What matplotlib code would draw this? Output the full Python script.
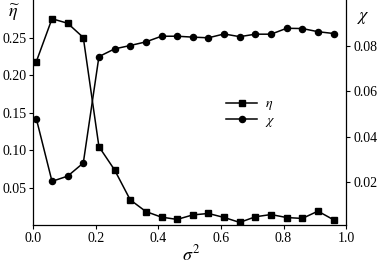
import matplotlib.pyplot as plt

plt.rcParams['font.family'] = ['Liberation Serif', 'DejaVu Serif']
plt.rcParams['mathtext.fontset'] = 'stix'

sigma2 = [0.01, 0.06, 0.11, 0.16, 0.21, 0.26, 0.31, 0.36, 0.41, 0.46,
          0.51, 0.56, 0.61, 0.66, 0.71, 0.76, 0.81, 0.86, 0.91, 0.96]
eta = [0.218, 0.275, 0.269, 0.250, 0.1045, 0.0735, 0.0336, 0.018, 0.0105, 0.0075,
       0.0135, 0.0154, 0.0101, 0.0035, 0.011, 0.014, 0.010, 0.0088, 0.0185, 0.007]
chi = [0.0479, 0.0203, 0.0226, 0.0284, 0.0754, 0.0788, 0.0803, 0.0819, 0.0844, 0.0844,
       0.0840, 0.0837, 0.0854, 0.0842, 0.0853, 0.0853, 0.0879, 0.0878, 0.0864, 0.0856]

fig = plt.figure(figsize=(3.82, 2.66), dpi=100)
ax = fig.add_axes([0.087, 0.154, 0.819, 0.846])
ax2 = ax.twinx()

l1, = ax.plot(sigma2, eta, color='black', lw=1.1, marker='s', ms=4.2, label=r'$\eta$')
l2, = ax2.plot(sigma2, chi, color='black', lw=1.1, marker='o', ms=4.4, label=r'$\chi$')

ax.set_xlim(0, 1.0)
ax.set_ylim(0, 0.30)
ax2.set_ylim(0.001, 0.1004)
ax.set_xticks([0.0, 0.2, 0.4, 0.6, 0.8, 1.0])
ax.set_yticks([0.05, 0.10, 0.15, 0.20, 0.25])
ax2.set_yticks([0.02, 0.04, 0.06, 0.08])
ax.set_xticklabels(['0.0', '0.2', '0.4', '0.6', '0.8', '1.0'])
ax.set_yticklabels(['0.05', '0.10', '0.15', '0.20', '0.25'])
ax2.set_yticklabels(['0.02', '0.04', '0.06', '0.08'])

for a in (ax, ax2):
    a.spines['top'].set_visible(False)
    a.tick_params(labelsize=10, length=3, width=0.8, pad=2)
    for s in a.spines.values():
        s.set_linewidth(0.9)
ax.spines['right'].set_visible(False)
ax2.spines['left'].set_visible(False)
ax2.spines['bottom'].set_visible(False)

fig.text(0.037, 0.95, r'$\widetilde{\eta}$', fontsize=13, ha='center', va='center')
fig.text(0.952, 0.935, r'$\chi$', fontsize=13, ha='center', va='center')
fig.text(0.50, 0.045, r'$\sigma^2$', fontsize=13, ha='center', va='center')

ax.legend(handles=[l1, l2], loc='center left', bbox_to_anchor=(0.595, 0.497),
          frameon=False, fontsize=10, handlelength=2.2, handletextpad=0.6,
          labelspacing=0.1, borderpad=0)

fig.savefig('out.png', dpi=100)
